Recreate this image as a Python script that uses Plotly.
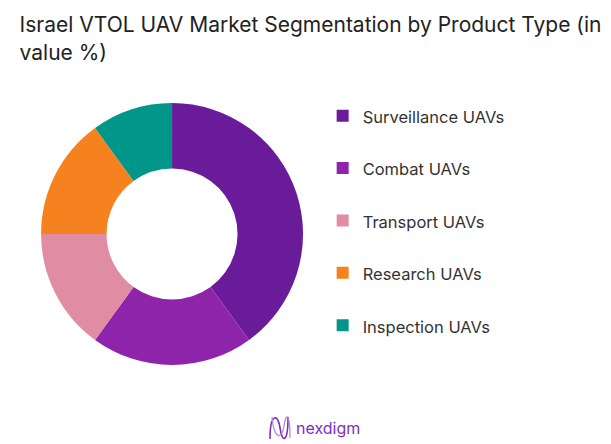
import plotly.graph_objects as go

# segment shares (value %)
categories = ["Surveillance UAVs", "Combat UAVs", "Transport UAVs", "Research UAVs", "Inspection UAVs"]
shares = [40, 20, 15, 15, 10]
colors = ["#6A1B9A", "#8E24AA", "#E08CA3", "#F5821F", "#00968A"]

# two-line legend labels (second line blank) to space entries like the original
legend_labels = ["<span style='font-size:16.5px'>" + c + "</span><br> " for c in categories]

fig = go.Figure(go.Pie(
    labels=legend_labels,
    values=shares,
    hole=0.5,
    sort=False,
    direction="clockwise",
    rotation=0,
    marker=dict(colors=colors),
    textinfo="none",
    hoverinfo="skip",
    domain=dict(x=[0.054, 0.483], y=[0.196, 0.786]),
))

# little wave mark of the logo
W, H = 611, 444
def px(x, y):
    return f"{x / W:.4f},{1 - y / H:.4f}"

logo_path = ("M " + px(262, 431) + " C " + px(262, 405) + " " + px(270, 405) + " "
             + px(272, 420) + " S " + px(280, 436) + " " + px(280, 409))
logo_path2 = ("M " + px(264, 409) + " C " + px(266, 432) + " " + px(274, 432) + " "
              + px(276, 418) + " S " + px(282, 405) + " " + px(282, 430))

fig.update_layout(
    width=W, height=H,
    margin=dict(l=0, r=0, t=0, b=0),
    paper_bgcolor="white",
    font=dict(family="Inter", color="#333333"),
    title=dict(
        text="Israel VTOL UAV Market Segmentation by Product Type (in<br>value %)",
        x=0.019, xanchor="left", y=0.945, yanchor="top",
        font=dict(size=21, color="#222222"),
    ),
    legend=dict(
        x=0.515, xanchor="left", y=0.80, yanchor="top",
        font=dict(size=19, color="#333333"),
        valign="top",
    ),
    shapes=[
        dict(type="path", xref="paper", yref="paper", path=logo_path,
             line=dict(color="#7B2FBE", width=1.6)),
        dict(type="path", xref="paper", yref="paper", path=logo_path2,
             line=dict(color="#B57EDC", width=1.2)),
    ],
    annotations=[dict(
        text="nexdigm", x=286 / W, y=1 - 420 / H, xref="paper", yref="paper",
        xanchor="left", yanchor="middle", showarrow=False,
        font=dict(size=16, color="#7B2FBE", family="Inter"),
    )],
)

fig.write_html("out.html")
